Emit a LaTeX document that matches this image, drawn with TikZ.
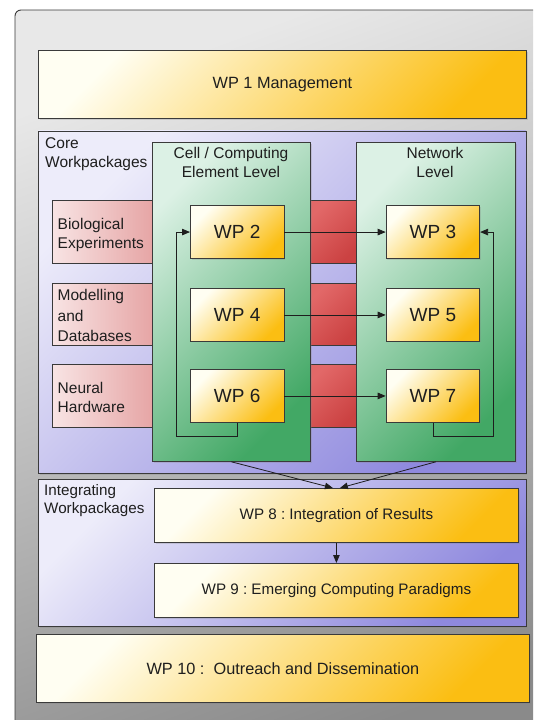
\documentclass[tikz,border=0pt]{standalone}
\usepackage{fontspec}
\setmainfont{Liberation Sans}
\usetikzlibrary{arrows.meta,shadows,calc}
\definecolor{edgec}{HTML}{3A3A3A}
\definecolor{txt}{HTML}{1E1E1E}
\definecolor{ylight}{HTML}{FFFEF2}
\definecolor{ydark}{HTML}{FBBE12}
\definecolor{plight}{HTML}{EDECFA}
\definecolor{pdark}{HTML}{8F89DE}
\definecolor{glight}{HTML}{DCF1E5}
\definecolor{gdark}{HTML}{42A865}
\definecolor{rlight}{HTML}{F8E4E4}
\definecolor{rmid}{HTML}{E5A2A2}
\definecolor{rdarkA}{HTML}{E26868}
\definecolor{rdarkB}{HTML}{CB4242}
\definecolor{graylight}{HTML}{E8E8E8}
\definecolor{graydark}{HTML}{8A8A8A}
\frenchspacing
\begin{document}
\begin{tikzpicture}[x=1pt,y=-1pt,
  box/.style={draw=edgec, line width=0.8pt, inner sep=0pt, align=center,
    text=txt, anchor=north west},
  shad/.style={drop shadow={shadow xshift=1.2pt, shadow yshift=-1.2pt, opacity=0.25}},
  ybox/.style={box, shad, top color=ylight, bottom color=ydark, shading angle=45},
  pbox/.style={box, shad, top color=plight, bottom color=pdark, shading angle=45},
  gbox/.style={box, shad, top color=glight, bottom color=gdark, shading angle=45},
  rlbox/.style={box, left color=rlight, right color=rmid},
  rmbox/.style={box, top color=rdarkA, bottom color=rdarkB, shading angle=45},
  bigtxt/.style={font=\fontsize{16.3}{20}\selectfont},
  medtxt/.style={font=\fontsize{15.2}{19}\selectfont},
  wptxt/.style={font=\fontsize{19}{22}\selectfont},
  lbl/.style={align=left, inner sep=0pt, text=txt, font=\fontsize{15.5}{19.5}\selectfont},
  clbl/.style={align=center, inner sep=0pt, text=txt, anchor=north, font=\fontsize{15.5}{19}\selectfont},
  arr/.style={-{Triangle[length=8pt,width=6.5pt]}, line width=0.8pt, draw=txt}
]
\useasboundingbox (0,0) rectangle (533,720);
\begin{scope}
\clip (0,0) rectangle (533,720);
\path[draw=edgec, line width=0.9pt, top color=graylight, bottom color=graydark, shading angle=20,
  rounded corners=6pt] (15,10) rectangle (570,760);
\end{scope}

% main blocks
\node[ybox, bigtxt, minimum width=488pt, minimum height=68pt] (wp1) at (38,50) {WP 1 Management};
\node[pbox, minimum width=487.5pt, minimum height=342.5pt] (core) at (38,130.5) {};
\node[pbox, minimum width=487.5pt, minimum height=147pt] (integ) at (38,479) {};
\node[ybox, bigtxt, minimum width=493pt, minimum height=68pt] (wp10) at (36,634) {WP 10 :\ \ Outreach and Dissemination};

% red bands
\node[rlbox, minimum width=105pt, minimum height=63.3pt] (bioL) at (52,200) {};
\node[rlbox, minimum width=105pt, minimum height=61.7pt] (modL) at (52,283.3) {};
\node[rlbox, minimum width=105pt, minimum height=63pt] (neuL) at (52,364.3) {};
\node[rmbox, minimum width=46pt, minimum height=63.3pt] (bioM) at (310,200) {};
\node[rmbox, minimum width=46pt, minimum height=61.7pt] (modM) at (310,283.3) {};
\node[rmbox, minimum width=46pt, minimum height=63pt] (neuM) at (310,364.3) {};

% green columns
\node[gbox, minimum width=158pt, minimum height=319pt] (cell) at (152,142) {};
\node[gbox, minimum width=159pt, minimum height=319pt] (net) at (356,142) {};

% work packages
\node[ybox, wptxt, minimum width=93.5pt, minimum height=53.3pt] (wp2) at (190,205) {WP 2};
\node[ybox, wptxt, minimum width=93.5pt, minimum height=52.5pt] (wp4) at (190,288.3) {WP 4};
\node[ybox, wptxt, minimum width=93.5pt, minimum height=52.5pt] (wp6) at (190,369.3) {WP 6};
\node[ybox, wptxt, minimum width=93.6pt, minimum height=53.3pt] (wp3) at (385.7,205) {WP 3};
\node[ybox, wptxt, minimum width=93.6pt, minimum height=52.5pt] (wp5) at (385.7,288.3) {WP 5};
\node[ybox, wptxt, minimum width=93.6pt, minimum height=52.5pt] (wp7) at (385.7,369.3) {WP 7};
\node[ybox, medtxt, minimum width=364pt, minimum height=54pt] (wp8) at (154,488) {WP 8 : Integration of Results};
\node[ybox, medtxt, minimum width=364pt, minimum height=54pt] (wp9) at (154,563) {WP 9 : Emerging Computing Paradigms};

% labels
\node[lbl, anchor=north west] (corelbl) at (45,137) {Core\\Workpackages};
\node[lbl, anchor=north west, font=\fontsize{15.2}{18}\selectfont] (integlbl) at (44,484.5) {Integrating\\Workpackages};
\node[clbl] (celllbl) at (231,147.5) {Cell / Computing\\Element Level};
\node[clbl] (netlbl) at (435,147.5) {Network\\Level};
\node[lbl, anchor=north west] (biolbl) at (57.5,218) {Biological\\Experiments};
\node[lbl, anchor=north west, font=\fontsize{15.5}{20.3}\selectfont] (modlbl) at (57.5,289.5) {Modelling\\and\\Databases};
\node[lbl, anchor=north west] (neulbl) at (57.5,382) {Neural\\Hardware};

% connectors
\draw[arr] (wp2.east) -- (wp3.west);
\draw[arr] (wp4.east) -- (wp5.west);
\draw[arr] (wp6.east) -- (wp7.west);
\coordinate (loopL) at (176,436);
\coordinate (loopR) at (493,436);
\draw[arr] (wp6.south) |- (loopL) |- (wp2.west);
\draw[arr] (wp7.south) |- (loopR) |- (wp3.east);
\draw[arr] (cell.south) -- ($(wp8.north)+(-3.5,0)$);
\draw[arr] (net.south) -- ($(wp8.north)+(3.5,0)$);
\draw[arr] (wp8.south) -- (wp9.north);
\end{tikzpicture}
\end{document}
